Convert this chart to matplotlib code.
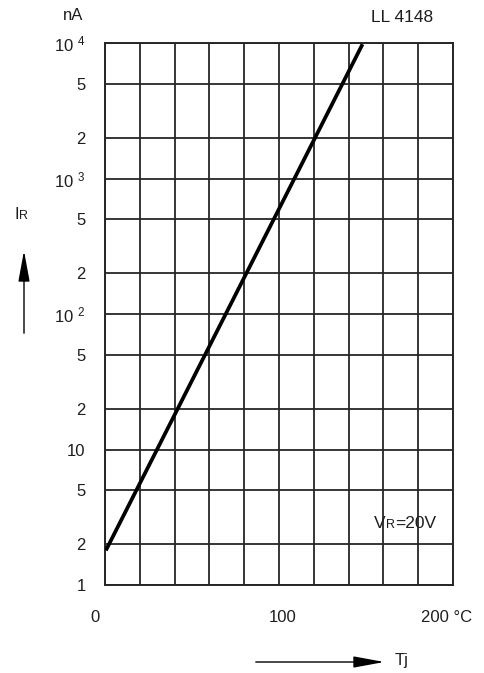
"""
Reverse current vs junction temperature, LL 4148 datasheet curve.
"""

import matplotlib
matplotlib.use("Agg")
import matplotlib.pyplot as plt

plt.rcParams['font.family'] = ['Liberation Sans', 'DejaVu Sans']
plt.rcParams['mathtext.fontset'] = 'custom'
plt.rcParams['mathtext.rm'] = 'Liberation Sans'
plt.rcParams['mathtext.it'] = 'Liberation Sans'

# data (VR = 20 V)
temp_c = [0.5, 148]
current_na = [1.8, 9800]

# axis ticks / labels
x_grid = list(range(0, 201, 20))
x_labels = ['0', '100', '200 °C']
x_label_pos = [0, 100, 200]
y_grid = [1, 2, 5, 10, 20, 50, 100, 200, 500, 1000, 2000, 5000, 10000]
y_labels = ['1', '2', '5', '10', '2', '5', '10 $^{2}$', '2', '5',
            '10 $^{3}$', '2', '5', '10 $^{4}$']

FS = 12
TXT = '#1e1e1e'
W, H = 484, 673
fig = plt.figure(figsize=(W / 100, H / 100), dpi=100)
ax = fig.add_axes([105 / W, 1 - 585 / H, 348 / W, 542 / H])

ax.set_yscale('log')
ax.set_xlim(0, 200)
ax.set_ylim(1, 10000)

ax.set_xticks(x_grid)
ax.set_xticklabels([])
ax.set_yticks(y_grid)
ax.set_yticklabels(y_labels, fontsize=FS, color=TXT)
ax.yaxis.set_minor_locator(matplotlib.ticker.NullLocator())
ax.tick_params(axis='both', length=0)
ax.tick_params(axis='y', pad=14)
ax.grid(True, which='major', color='#262626', linewidth=1.3)
for sp in ax.spines.values():
    sp.set_color('#262626')
    sp.set_linewidth(1.4)

ax.plot(temp_c, current_na, color='black', linewidth=2.7,
        solid_capstyle='butt', zorder=3)

# x labels placed by hand (they sit slightly off the grid lines)
x_offsets = [-10, 4, -6]
for lab, pos, dx in zip(x_labels, x_label_pos, x_offsets):
    ax.annotate(lab, xy=(pos, 1), xycoords='data',
                xytext=(dx, -32), textcoords='offset pixels',
                ha='center', va='center', fontsize=FS, color=TXT,
                annotation_clip=False)

# annotations
fig.text(73 / W, 1 - 15 / H, 'nA', ha='center', va='center',
         fontsize=FS, color=TXT)
fig.text(402 / W, 1 - 18 / H, 'LL 4148', ha='center', va='center',
         fontsize=FS + 0.5, color=TXT)

t = fig.text(374 / W, 1 - 528 / H, 'V', ha='left',
             va='baseline', fontsize=FS + 0.5, color=TXT)
t2 = ax.annotate('R', xy=(1, 0), xycoords=t, ha='left', va='bottom',
                 fontsize=FS - 3, color=TXT)
ax.annotate('=20V', xy=(1, 0), xycoords=t2, ha='left', va='bottom',
            fontsize=FS + 0.5, color=TXT)

t3 = fig.text(14 / W, 1 - 219 / H, 'I', ha='left', va='baseline',
              fontsize=FS, color=TXT)
ax.annotate('R', xy=(1, 0), xycoords=t3, ha='left', va='bottom',
            fontsize=FS - 3, color=TXT)

# direction arrows
ax.annotate('', xy=(24 / W, 1 - 248 / H), xycoords='figure fraction',
            xytext=(24 / W, 1 - 336 / H), textcoords='figure fraction',
            arrowprops=dict(arrowstyle='-|>,head_length=1.9,head_width=0.35',
                            color='black', lw=1.0))
ax.annotate('', xy=(387 / W, 1 - 662 / H), xycoords='figure fraction',
            xytext=(253 / W, 1 - 662 / H), textcoords='figure fraction',
            arrowprops=dict(arrowstyle='-|>,head_length=1.9,head_width=0.35',
                            color='black', lw=1.0))
fig.text(395 / W, 1 - 660 / H, 'Tj', ha='left', va='center',
         fontsize=FS, color=TXT)

fig.savefig('out.png', dpi=100)
